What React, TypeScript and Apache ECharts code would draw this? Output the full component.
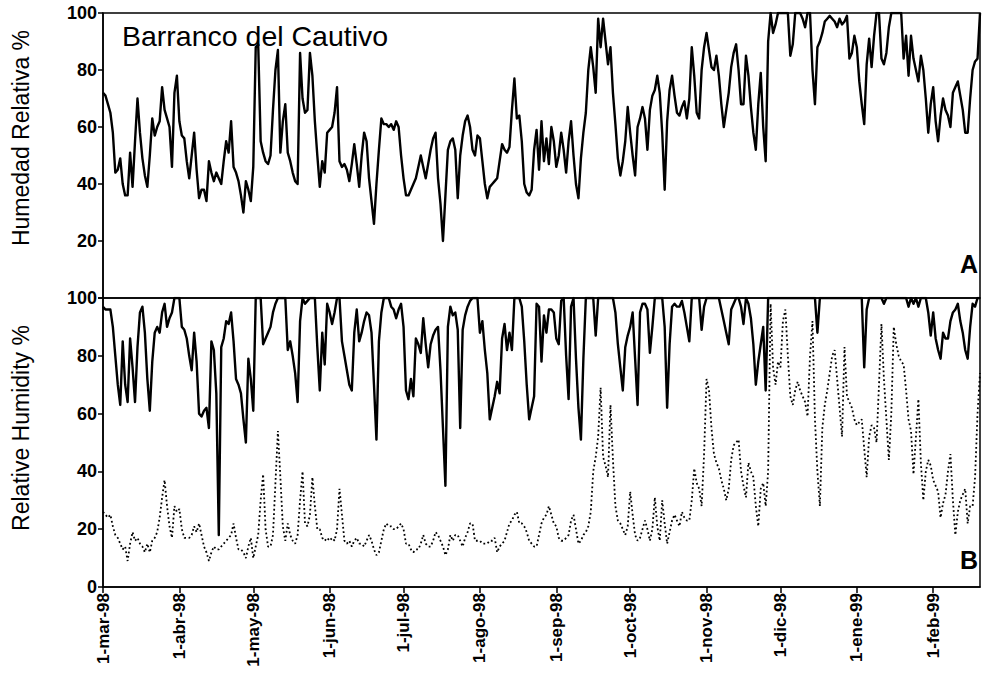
import { useEffect, useRef } from "react";
import * as echarts from "echarts";

// Daily series starting 1-mar-98 (357 days, to 20-feb-99)
const MONTHS = ["ene", "feb", "mar", "abr", "may", "jun", "jul", "ago", "sep", "oct", "nov", "dic"];
const N_DAYS = 357;
const dates: string[] = [];
for (let i = 0; i < N_DAYS; i++) {
  const d = new Date(Date.UTC(1998, 2, 1 + i));
  dates.push(`${d.getUTCDate()}-${MONTHS[d.getUTCMonth()]}-${String(d.getUTCFullYear()).slice(2)}`);
}

// Panel A: Barranco del Cautivo relative humidity (%)
const humedadCautivo = [
  72, 71, 68, 65, 58, 44, 45, 49, 40, 36,
  36, 51, 39, 55, 70, 58, 49, 43, 39, 50,
  63, 57, 60, 62, 74, 66, 63, 60, 46, 72,
  78, 62, 57, 56, 48, 42, 50, 58, 45, 35,
  38, 38, 34, 48, 44, 41, 44, 42, 40, 48,
  55, 51, 62, 46, 44, 41, 36, 30, 41, 38,
  34, 46, 88, 89, 55, 51, 48, 47, 50, 66,
  80, 87, 51, 62, 68, 51, 48, 44, 41, 40,
  86, 70, 65, 66, 86, 78, 62, 50, 39, 48,
  44, 58, 59, 60, 65, 74, 48, 46, 47, 45,
  41, 47, 54, 47, 39, 50, 58, 55, 42, 34,
  26, 40, 52, 63, 61, 61, 60, 61, 59, 62,
  60, 50, 42, 36, 36, 38, 40, 42, 46, 50,
  46, 42, 47, 52, 56, 58, 42, 33, 20, 36,
  52, 55, 56, 52, 35, 50, 57, 62, 64, 60,
  52, 50, 57, 56, 48, 40, 35, 39, 40, 41,
  42, 48, 54, 52, 51, 53, 66, 77, 63, 64,
  55, 40, 37, 36, 38, 52, 59, 45, 62, 48,
  56, 47, 60, 55, 46, 50, 58, 52, 44, 55,
  62, 50, 40, 35, 49, 58, 65, 80, 88, 81,
  72, 98, 88, 98, 90, 82, 88, 72, 61, 49,
  43, 48, 55, 67, 58, 50, 43, 60, 63, 67,
  63, 52, 66, 71, 73, 78, 72, 58, 38, 62,
  73, 78, 71, 65, 64, 67, 69, 63, 70, 88,
  78, 65, 63, 80, 88, 93, 87, 81, 80, 85,
  78, 68, 60, 66, 72, 81, 86, 89, 80, 68,
  68, 85, 78, 67, 58, 52, 68, 79, 60, 48,
  90, 100, 93, 96, 100, 100, 100, 100, 100, 85,
  89, 100, 100, 100, 98, 95, 100, 100, 80, 68,
  88, 90, 93, 97, 98, 99, 98, 97, 95, 98,
  96, 97, 99, 84, 86, 92, 88, 76, 68, 61,
  82, 91, 81, 92, 100, 100, 84, 82, 86, 95,
  100, 100, 100, 100, 100, 84, 92, 78, 92, 84,
  80, 76, 85, 80, 70, 58, 68, 74, 62, 55,
  64, 70, 66, 64, 60, 72, 74, 76, 71, 66,
  58, 58, 70, 80, 83, 84, 100,
];

// Panel B: solid line
const humedadSolid = [
  97, 96, 96, 96, 90, 80, 70, 63, 85, 70,
  64, 86, 76, 64, 83, 95, 97, 88, 72, 61,
  78, 88, 90, 88, 95, 98, 90, 93, 95, 100,
  100, 100, 90, 89, 86, 80, 75, 88, 78, 60,
  59, 61, 62, 55, 85, 82, 67, 18, 83, 86,
  92, 91, 95, 85, 72, 70, 67, 58, 50, 79,
  72, 61, 100, 100, 100, 84, 86, 88, 90, 95,
  98, 100, 100, 100, 100, 82, 85, 80, 74, 64,
  92, 100, 98, 99, 100, 100, 100, 83, 68, 88,
  77, 98, 95, 91, 95, 100, 100, 85, 80, 75,
  70, 68, 88, 96, 85, 88, 92, 95, 94, 88,
  70, 51, 85, 95, 100, 100, 100, 97, 96, 93,
  96, 98, 90, 68, 65, 72, 66, 86, 84, 81,
  93, 84, 76, 84, 87, 89, 90, 75, 55, 35,
  90, 97, 94, 95, 89, 55, 89, 94, 97, 99,
  100, 100, 100, 88, 92, 82, 74, 58, 62, 66,
  71, 67, 86, 91, 82, 88, 82, 100, 100, 100,
  97, 85, 70, 58, 62, 66, 98, 97, 78, 94,
  88, 96, 96, 95, 86, 84, 99, 100, 80, 65,
  97, 100, 79, 62, 51, 79, 100, 100, 100, 100,
  87, 100, 100, 100, 100, 100, 100, 100, 95, 84,
  76, 68, 83, 87, 90, 95, 79, 63, 95, 98,
  98, 96, 81, 90, 100, 100, 100, 100, 90, 62,
  84, 97, 98, 97, 97, 99, 95, 90, 85, 100,
  100, 100, 100, 89, 97, 100, 100, 100, 100, 100,
  100, 96, 92, 88, 84, 96, 98, 100, 100, 97,
  91, 100, 98, 93, 84, 70, 78, 84, 90, 68,
  100, 100, 100, 100, 100, 100, 100, 100, 100, 100,
  100, 100, 100, 100, 100, 100, 100, 100, 100, 100,
  88, 100, 100, 100, 100, 100, 100, 100, 100, 100,
  100, 100, 100, 100, 100, 100, 100, 100, 100, 76,
  96, 100, 100, 100, 100, 100, 100, 98, 100, 100,
  100, 100, 100, 100, 100, 100, 100, 97, 100, 98,
  100, 97, 100, 100, 100, 95, 87, 95, 86, 82,
  79, 88, 86, 86, 92, 95, 96, 98, 92, 88,
  82, 79, 90, 98, 97, 100, 100,
];

// Panel B: dotted line
const humedadDotted = [
  26, 25, 24, 25, 21, 18, 17, 15, 13, 14,
  9, 15, 19, 16, 17, 15, 14, 12, 15, 12,
  16, 17, 19, 24, 31, 37, 28, 21, 17, 28,
  26, 27, 20, 17, 17, 17, 18, 21, 19, 22,
  18, 14, 12, 9, 12, 14, 13, 13, 14, 15,
  16, 17, 18, 22, 17, 13, 13, 12, 10, 14,
  17, 10, 14, 18, 30, 39, 20, 14, 14, 18,
  36, 54, 38, 21, 16, 22, 18, 16, 15, 18,
  30, 40, 22, 21, 25, 38, 28, 20, 20, 17,
  16, 17, 16, 17, 16, 20, 34, 25, 16, 15,
  16, 14, 16, 17, 15, 15, 14, 16, 18, 16,
  13, 11, 12, 16, 20, 22, 21, 21, 20, 20,
  21, 22, 20, 15, 15, 13, 12, 13, 13, 15,
  18, 15, 14, 14, 16, 19, 18, 16, 14, 11,
  13, 18, 16, 18, 18, 16, 14, 17, 19, 22,
  22, 16, 16, 16, 15, 15, 15, 16, 16, 17,
  12, 14, 15, 16, 19, 22, 23, 25, 26, 22,
  22, 21, 19, 16, 15, 14, 14, 18, 22, 24,
  25, 28, 25, 22, 21, 17, 16, 16, 17, 18,
  23, 25, 20, 15, 16, 18, 19, 21, 26, 40,
  45, 52, 69, 45, 42, 38, 63, 44, 28, 23,
  22, 20, 18, 21, 33, 25, 18, 16, 17, 20,
  23, 20, 16, 20, 31, 21, 16, 30, 22, 15,
  19, 23, 25, 23, 21, 26, 24, 23, 23, 30,
  41, 36, 34, 28, 46, 72, 68, 55, 46, 43,
  41, 37, 34, 30, 34, 44, 49, 50, 51, 40,
  35, 31, 43, 40, 38, 28, 21, 34, 36, 28,
  40, 98, 76, 70, 78, 76, 92, 96, 80, 66,
  63, 68, 71, 68, 66, 64, 59, 80, 92, 58,
  40, 28, 55, 63, 68, 74, 80, 82, 72, 62,
  52, 83, 66, 64, 62, 58, 56, 57, 58, 48,
  38, 52, 56, 55, 50, 70, 91, 72, 58, 44,
  60, 90, 84, 80, 78, 77, 68, 58, 54, 39,
  52, 65, 43, 30, 40, 44, 42, 37, 35, 33,
  24, 29, 32, 40, 46, 30, 18, 26, 30, 32,
  34, 22, 28, 28, 38, 60, 74,
];

const TITLE = "Barranco del Cautivo";
const Y_NAME_TOP = "Humedad Relativa %";
const Y_NAME_BOTTOM = "Relative Humidity %";

const FONT = "'Liberation Sans', Arial, Helvetica, sans-serif";

export default function App() {
  const ref = useRef<HTMLDivElement>(null);

  useEffect(() => {
    if (!ref.current) return;
    const chart = echarts.init(ref.current, undefined, { renderer: "svg" });
    const isMonthStart = (_i: number, v: string) => v.startsWith("1-");
    const black = "#000";
    const axisLine = { show: true, lineStyle: { color: black, width: 1.5 } };
    const yAxisBase = (gridIndex: number, hideZero: boolean) => ({
      type: "value",
      gridIndex,
      min: 0,
      max: 100,
      interval: 20,
      axisLine,
      axisTick: { show: true, length: 5, inside: false, lineStyle: { color: black, width: 1.5 } },
      axisLabel: {
        color: black,
        fontSize: 18,
        fontWeight: "bold",
        fontFamily: FONT,
        margin: 6,
        formatter: (v: number) => (hideZero && v === 0 ? "" : String(v)),
      },
      splitLine: { show: false },
    });

    chart.setOption({
      animation: false,
      backgroundColor: "#fff",
      grid: [
        { left: 103, right: 6, top: 13, height: 285, show: true, borderColor: black, borderWidth: 1.5 },
        { left: 103, right: 6, top: 298, height: 289, show: true, borderColor: black, borderWidth: 1.5 },
      ],
      xAxis: [
        {
          type: "category",
          gridIndex: 0,
          data: dates,
          boundaryGap: false,
          axisLine: { show: false },
          axisTick: { show: false },
          axisLabel: { show: false },
          splitLine: { show: false },
        },
        {
          type: "category",
          gridIndex: 1,
          data: dates,
          boundaryGap: false,
          axisLine,
          axisTick: { show: true, interval: isMonthStart, length: 6, lineStyle: { color: black, width: 1.5 } },
          axisLabel: {
            interval: isMonthStart,
            rotate: 90,
            color: black,
            fontSize: 17,
            fontWeight: "bold",
            fontFamily: FONT,
            margin: 6,
          },
          splitLine: { show: false },
        },
      ],
      yAxis: [yAxisBase(0, true), yAxisBase(1, false)],
      series: [
        {
          type: "line",
          xAxisIndex: 0,
          yAxisIndex: 0,
          data: humedadCautivo,
          symbol: "none",
          lineStyle: { color: black, width: 2.4, join: "round" },
        },
        {
          type: "line",
          xAxisIndex: 1,
          yAxisIndex: 1,
          data: humedadDotted,
          symbol: "none",
          lineStyle: { color: black, width: 1.8, type: [1.8, 2.6] },
        },
        {
          type: "line",
          xAxisIndex: 1,
          yAxisIndex: 1,
          data: humedadSolid,
          symbol: "none",
          lineStyle: { color: black, width: 2.4, join: "round" },
        },
      ],
      graphic: [
        {
          type: "text",
          x: 122,
          y: 36,
          style: { text: TITLE, fontSize: 28.5, fontFamily: FONT, fill: black, align: "left", verticalAlign: "middle" },
        },
        {
          type: "text",
          x: 21,
          y: 138,
          rotation: Math.PI / 2,
          style: { text: Y_NAME_TOP, fontSize: 23, fontFamily: FONT, fill: black, align: "center", verticalAlign: "middle" },
        },
        {
          type: "text",
          x: 21,
          y: 428,
          rotation: Math.PI / 2,
          style: { text: Y_NAME_BOTTOM, fontSize: 23, fontFamily: FONT, fill: black, align: "center", verticalAlign: "middle" },
        },
        {
          type: "text",
          x: 978,
          y: 264,
          style: { text: "A", fontSize: 25, fontWeight: "bold", fontFamily: FONT, fill: black, align: "right", verticalAlign: "middle" },
        },
        {
          type: "text",
          x: 978,
          y: 560,
          style: { text: "B", fontSize: 25, fontWeight: "bold", fontFamily: FONT, fill: black, align: "right", verticalAlign: "middle" },
        },
      ],
    });
    return () => chart.dispose();
  }, []);

  return <div ref={ref} style={{ position: "absolute", left: 0, top: 0, width: 986, height: 694 }} />;
}
